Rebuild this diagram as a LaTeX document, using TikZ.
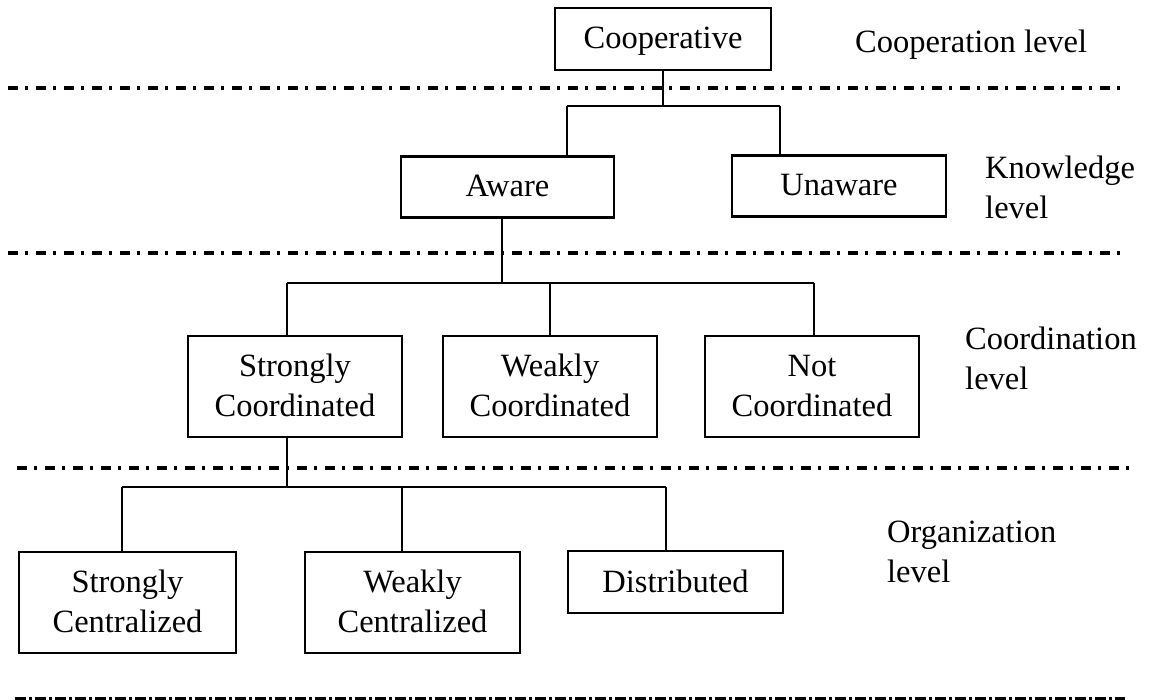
\documentclass[tikz,border=0pt]{standalone}
\usepackage{fontspec}
\setmainfont{Liberation Serif}
\begin{document}
\begin{tikzpicture}[x=1pt,y=-1pt,
  every node/.style={font=\fontsize{32.5}{40}\selectfont},
  box/.style={draw,line width=2.8pt,inner sep=0pt,align=center,text depth=2pt},
  link/.style={line width=2.4pt},
  levelsep/.style={line width=3.4pt,dash pattern=on 10pt off 7pt on 3pt off 8pt},
  basesep/.style={line width=8pt,dash pattern=on 11pt off 3pt on 3pt off 3pt},
  lbl/.style={anchor=west,align=left,inner sep=0pt}]
\useasboundingbox (0,0) rectangle (1150,700);
\fill[white] (0,0) rectangle (1150,700);

% boxes of the hierarchy
\node[box,minimum width=216pt,minimum height=62pt] (coop) at (663,39) {Cooperative};
\node[box,minimum width=213pt,minimum height=61pt] (aware) at (507.5,187) {Aware};
\node[box,minimum width=214pt,minimum height=61pt] (unaware) at (839,186) {Unaware};
\node[box,minimum width=214pt,minimum height=101pt] (scoord) at (295,386.5) {Strongly\\Coordinated};
\node[box,minimum width=214pt,minimum height=101pt] (wcoord) at (550,386.5) {Weakly\\Coordinated};
\node[box,minimum width=214pt,minimum height=101pt] (ncoord) at (812,386.5) {Not\\Coordinated};
\node[box,minimum width=217pt,minimum height=101pt] (scent) at (127.5,602.5) {Strongly\\Centralized};
\node[box,minimum width=215pt,minimum height=101pt] (wcent) at (412.5,602.5) {Weakly\\Centralized};
\node[box,minimum width=215pt,minimum height=62pt] (distr) at (675.5,582) {Distributed};

% level labels
\node[lbl] (l1) at (855,45) {Cooperation level};
\node[lbl] (l2) at (985,187) {Knowledge\\level};
\node[lbl] (l3) at (965,358) {Coordination\\level};
\node[lbl] (l4) at (887,552) {Organization\\level};

% tree connectors
\coordinate (a1) at (567,106);
\coordinate (a2) at (780,106);
\draw[link] (coop.south) -- (coop.south |- a1);
\draw[link] (a1) -- (a2);
\draw[link] (a1) -- (a1 |- aware.north);
\draw[link] (a2) -- (a2 |- unaware.north);

\coordinate (b0) at (502,283);
\coordinate (b1) at (287,283);
\coordinate (b2) at (550,283);
\coordinate (b3) at (814,283);
\draw[link] (b0 |- aware.south) -- (b0);
\draw[link] (b1) -- (b3);
\draw[link] (b1) -- (b1 |- scoord.north);
\draw[link] (b2) -- (b2 |- wcoord.north);
\draw[link] (b3) -- (b3 |- ncoord.north);

\coordinate (c0) at (287,487);
\coordinate (c1) at (122,487);
\coordinate (c2) at (402,487);
\coordinate (c3) at (666,487);
\draw[link] (c0 |- scoord.south) -- (c0);
\draw[link] (c1) -- (c3);
\draw[link] (c1) -- (c1 |- scent.north);
\draw[link] (c2) -- (c2 |- wcent.north);
\draw[link] (c3) -- (c3 |- distr.north);

% level separators
\coordinate (s1a) at (8,88);    \coordinate (s1b) at (1120,88);
\coordinate (s2a) at (8,253);   \coordinate (s2b) at (1125,253);
\coordinate (s3a) at (17,468);  \coordinate (s3b) at (1130,468);
\coordinate (s4a) at (15,701);  \coordinate (s4b) at (1125,701);
\draw[levelsep] (s1a) -- (s1b);
\draw[levelsep] (s2a) -- (s2b);
\draw[levelsep] (s3a) -- (s3b);
\draw[basesep] (s4a) -- (s4b);
\end{tikzpicture}
\end{document}
